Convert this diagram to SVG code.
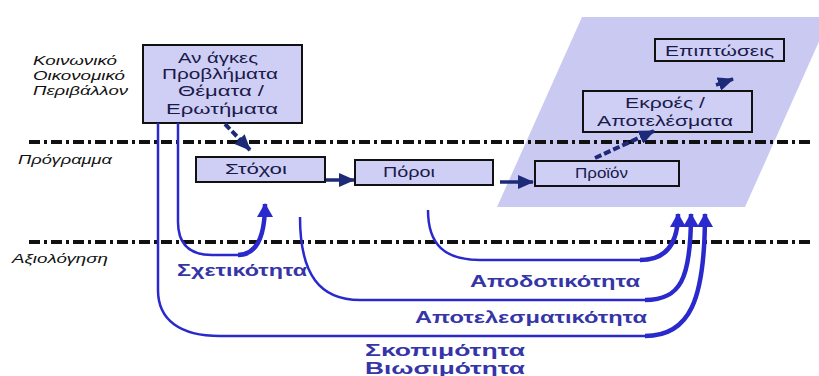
<svg xmlns="http://www.w3.org/2000/svg" width="819" height="376" viewBox="0 0 819 376">
<style>
.box{fill:#cfcff5;stroke:#111;stroke-width:2}
.bt{font-family:"Liberation Sans",Arial,sans-serif;font-size:14px;fill:#1a1a4a;text-anchor:start}
.lt{font-family:"Liberation Sans",Arial,sans-serif;font-size:13px;font-style:italic;fill:#111}
.bl{font-family:"Liberation Sans",Arial,sans-serif;font-size:16px;font-weight:bold;fill:#3535a8}
.sep{stroke:#111;stroke-width:4;stroke-dasharray:11 4 3 4;fill:none}
.nv{stroke:#1c2a78;stroke-width:3.5;fill:none}
.nvd{stroke:#1c2a78;stroke-width:4;fill:none;stroke-dasharray:7 3}
.cv{stroke:#2a2acc;stroke-width:2.5;fill:none}
.cvt{stroke:#2a2acc;stroke-width:4.5;fill:none}
</style>
<defs>
<marker id="nav" markerUnits="userSpaceOnUse" markerWidth="16" markerHeight="14" refX="15" refY="7" orient="auto"><path d="M0,0 L16,7 L0,14 z" fill="#1c2a78"/></marker>
<marker id="blu" markerUnits="userSpaceOnUse" markerWidth="14" markerHeight="16" refX="13" refY="8" orient="auto"><path d="M0,0 L14,8 L0,16 z" fill="#2a2acc"/></marker>
</defs>
<rect width="819" height="376" fill="#fff"/>
<polygon points="582,17 830,17 745,207 497,207" fill="#c9c9f2"/>
<line class="sep" x1="29" y1="142" x2="810" y2="142"/>
<line class="sep" x1="29" y1="242" x2="810" y2="242"/>
<g id="labels-left">
<text class="lt" x="33" y="65" textLength="84" lengthAdjust="spacingAndGlyphs">Κοινωνικό</text>
<text class="lt" x="33" y="80" textLength="92" lengthAdjust="spacingAndGlyphs">Οικονομικό</text>
<text class="lt" x="33" y="95" textLength="95" lengthAdjust="spacingAndGlyphs">Περιβάλλον</text>
<text class="lt" x="18" y="164" textLength="94" lengthAdjust="spacingAndGlyphs">Πρόγραμμα</text>
<text class="lt" x="12" y="263" textLength="96" lengthAdjust="spacingAndGlyphs">Αξιολόγηση</text>
</g>
<g id="node-anagkes">
<rect class="box" x="143" y="45" width="159" height="78"/>
<text class="bt" style="font-size:15px" x="178" y="63" textLength="80" lengthAdjust="spacingAndGlyphs">Αν άγκες</text>
<text class="bt" style="font-size:15px" x="162" y="79" textLength="116" lengthAdjust="spacingAndGlyphs">Προβλήματα</text>
<text class="bt" style="font-size:15px" x="178" y="96" textLength="86" lengthAdjust="spacingAndGlyphs">Θέματα /</text>
<text class="bt" style="font-size:15px" x="166" y="114" textLength="112" lengthAdjust="spacingAndGlyphs">Ερωτήματα</text>
</g>
<g id="node-stochoi">
<rect class="box" x="196" y="157" width="129" height="25"/>
<text class="bt" x="225" y="174" textLength="62" lengthAdjust="spacingAndGlyphs">Στόχοι</text>
</g>
<g id="node-poroi">
<rect class="box" x="355" y="160" width="138" height="25"/>
<text class="bt" x="383" y="177" textLength="52" lengthAdjust="spacingAndGlyphs">Πόροι</text>
</g>
<g id="node-proion">
<rect class="box" x="535" y="161" width="144" height="25"/>
<text class="bt" x="575" y="178" textLength="53" lengthAdjust="spacingAndGlyphs">Προϊόν</text>
</g>
<g id="node-ekroes">
<rect class="box" x="583" y="91" width="169" height="41"/>
<text class="bt" x="625" y="108" textLength="80" lengthAdjust="spacingAndGlyphs">Εκροές /</text>
<text class="bt" x="597" y="126" textLength="136" lengthAdjust="spacingAndGlyphs">Αποτελέσματα</text>
</g>
<g id="node-epiptoseis">
<rect class="box" x="655" y="39" width="129" height="22"/>
<text class="bt" x="665" y="56" textLength="109" lengthAdjust="spacingAndGlyphs">Επιπτώσεις</text>
</g>
<g id="connectors">
<path class="nvd" d="M225,124 L250,150" marker-end="url(#nav)"/>
<path class="nv" d="M326,180 L354,180" marker-end="url(#nav)"/>
<path class="nv" d="M500,182 L533,182" marker-end="url(#nav)"/>
<path class="nvd" d="M595,158 L654,131" marker-end="url(#nav)"/>
<path class="nv" d="M716,85 L733,79" marker-end="url(#nav)"/>
<path class="cv" d="M178,123 V222 Q178,255 212,255 H238"/>
<path class="cvt" d="M238,255 Q265,255 265,204" marker-end="url(#blu)"/>
<path class="cv" d="M428,210 C428,245 445,260 480,260 H640"/>
<path class="cvt" d="M640,260 C665,260 678,245 678,214" marker-end="url(#blu)"/>
<path class="cv" d="M300,217 C300,275 320,300 360,300 H645"/>
<path class="cvt" d="M645,300 C680,300 691,280 691,214" marker-end="url(#blu)"/>
<path class="cv" d="M158,123 V290 C158,320 180,336 220,336 H645"/>
<path class="cvt" d="M645,336 C690,336 705,300 705,214" marker-end="url(#blu)"/>
</g>
<g id="labels-blue">
<text class="bl" x="177" y="276" textLength="130" lengthAdjust="spacingAndGlyphs">Σχετικότητα</text>
<text class="bl" x="470" y="287" textLength="170" lengthAdjust="spacingAndGlyphs">Αποδοτικότητα</text>
<text class="bl" x="415" y="323" textLength="232" lengthAdjust="spacingAndGlyphs">Αποτελεσματικότητα</text>
<text class="bl" x="365" y="356" textLength="160" lengthAdjust="spacingAndGlyphs">Σκοπιμότητα</text>
<text class="bl" x="365" y="374" textLength="160" lengthAdjust="spacingAndGlyphs">Βιωσιμότητα</text>
</g>
</svg>
